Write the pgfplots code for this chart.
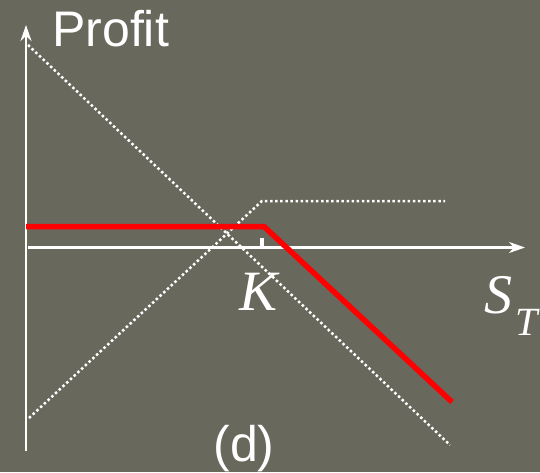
\documentclass[border=0pt]{standalone}
\usepackage{pgfplots}
\pgfplotsset{compat=1.18}
\usepackage{fontspec}
\setmainfont{Liberation Serif}
\newfontfamily\arial{Liberation Sans}
\usetikzlibrary{arrows.meta}
\definecolor{bg}{RGB}{104,104,92}
\definecolor{redl}{RGB}{255,0,0}
\begin{document}
\begin{tikzpicture}
\fill[bg] (0,0) rectangle (540pt,472pt);
\begin{axis}[
  anchor=origin, at={(0pt,0pt)},
  x=1pt, y=1pt,
  xmin=0, xmax=540, ymin=0, ymax=472,
  axis lines=none, clip=false,
  ticks=none,
]
% dotted lines
\addplot[white, line width=2.5pt, dash pattern=on 2.5pt off 2.6pt] coordinates {(29,54) (262,271) (445,271)};
\addplot[white, line width=2.5pt, dash pattern=on 2.5pt off 2.6pt] coordinates {(28,427) (450,27)};
% axes
\addplot[white, line width=2.5pt, -{Stealth[length=16pt,width=11pt,inset=5pt]}] coordinates {(26,21) (26,447)};
\addplot[white, line width=2.5pt, -{Stealth[length=16pt,width=11pt,inset=5pt]}] coordinates {(28,224.5) (525,224.5)};
% K tick
\addplot[white, line width=4pt] coordinates {(262,225) (262,234)};
% red payoff
\addplot[redl, line width=5.5pt, line join=miter] coordinates {(26,245.5) (264,245.5) (452,70)};
% labels
\node[anchor=base west, inner sep=0pt, font=\arial\fontsize{50}{50}\selectfont, text=white] at (axis cs:52,425) {Profit};
\node[anchor=base, inner sep=0pt, font=\arial\fontsize{50}{50}\selectfont, text=white] at (axis cs:244,11) {(d)};
\node[anchor=base, inner sep=0pt, font=\arial\fontsize{50}{50}\selectfont, text=white] at (axis cs:245,484) {(c)};
\node[anchor=base, inner sep=0pt, font=\fontsize{57}{57}\selectfont, text=white] at (axis cs:260,162) {\textit{K}};
\node[anchor=base west, inner sep=0pt, font=\fontsize{56}{56}\selectfont, text=white] at (axis cs:484,159) {\textit{S}\hspace{3pt}\raisebox{-22pt}{\fontsize{40}{40}\selectfont\textit{T}}};
\end{axis}
\pgfresetboundingbox
\useasboundingbox (0,0) rectangle (540pt,472pt);
\end{tikzpicture}
\end{document}
